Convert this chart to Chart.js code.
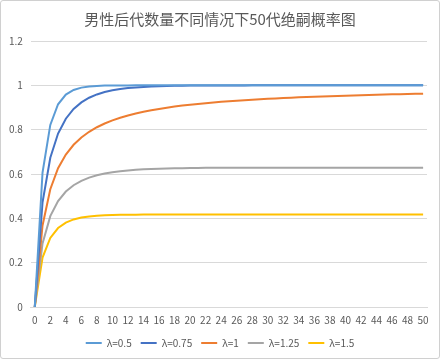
<!DOCTYPE html>
<html><head><meta charset="utf-8">
<script src="https://cdn.jsdelivr.net/npm/chart.js@4/dist/chart.umd.min.js"></script>
<style>
html,body{margin:0;padding:0;background:#fff;}
#wrap{position:absolute;left:0;top:0;width:438px;height:357px;border:1px solid #d0d0d0;border-radius:3px;background:#fff;}
canvas{display:block;}
</style></head><body>
<div id="wrap"><canvas id="c" width="438" height="357"></canvas></div>
<script>
const titleText = '男性后代数量不同情况下50代绝嗣概率图';
const generations = Array.from({length:51},(_,i)=>String(i));
const seriesNames = ['λ=0.5','λ=0.75','λ=1','λ=1.25','λ=1.5'];
const lambda05 = [0,0.6065,0.8214,0.9146,0.9582,0.9793,0.9897,0.9949,0.9974,0.9987,0.9994,0.9997,0.9998,0.9999,1,1,1,1,1,1,1,1,1,1,1,1,1,1,1,1,1,1,1,1,1,1,1,1,1,1,1,1,1,1,1,1,1,1,1,1,1];
const lambda075 = [0,0.4724,0.6732,0.7826,0.8495,0.8933,0.9231,0.9440,0.9589,0.9696,0.9775,0.9833,0.9875,0.9907,0.9930,0.9948,0.9961,0.9971,0.9978,0.9984,0.9988,0.9991,0.9993,0.9995,0.9996,0.9997,0.9998,0.9998,0.9999,0.9999,0.9999,1,1,1,1,1,1,1,1,1,1,1,1,1,1,1,1,1,1,1,1];
const lambda1 = [0,0.3679,0.5315,0.6259,0.6879,0.7319,0.7649,0.7905,0.8110,0.8278,0.8418,0.8537,0.8639,0.8728,0.8806,0.8875,0.8936,0.8991,0.9040,0.9085,0.9126,0.9163,0.9197,0.9228,0.9257,0.9284,0.9309,0.9332,0.9354,0.9374,0.9393,0.9411,0.9428,0.9444,0.9459,0.9473,0.9487,0.9500,0.9512,0.9524,0.9535,0.9546,0.9556,0.9566,0.9575,0.9584,0.9593,0.9601,0.9609,0.9617,0.9624];
const lambda125 = [0,0.2865,0.4099,0.4782,0.5208,0.5494,0.5693,0.5837,0.5943,0.6022,0.6082,0.6128,0.6163,0.6190,0.6211,0.6228,0.6241,0.6251,0.6259,0.6265,0.6270,0.6274,0.6277,0.6279,0.6281,0.6282,0.6283,0.6284,0.6285,0.6285,0.6285,0.6286,0.6286,0.6286,0.6286,0.6286,0.6286,0.6286,0.6286,0.6286,0.6286,0.6286,0.6286,0.6286,0.6286,0.6286,0.6286,0.6286,0.6286,0.6286,0.6286];
const lambda15 = [0,0.2231,0.3118,0.3562,0.3807,0.3950,0.4035,0.4087,0.4119,0.4139,0.4151,0.4159,0.4163,0.4166,0.4168,0.4170,0.4171,0.4171,0.4172,0.4172,0.4172,0.4172,0.4172,0.4172,0.4172,0.4172,0.4172,0.4172,0.4172,0.4172,0.4172,0.4172,0.4172,0.4172,0.4172,0.4172,0.4172,0.4172,0.4172,0.4172,0.4172,0.4172,0.4172,0.4172,0.4172,0.4172,0.4172,0.4172,0.4172,0.4172,0.4172];
const colors = ['#5B9BD5','#4472C4','#ED7D31','#A5A5A5','#FFC000'];
const allSeries = [lambda05,lambda075,lambda1,lambda125,lambda15];

const FONT = "'Noto Sans CJK SC','Noto Sans',sans-serif";
new Chart(document.getElementById('c'),{
  type:'line',
  data:{labels:generations,datasets:allSeries.map((d,i)=>({label:seriesNames[i],data:d,borderColor:colors[i],backgroundColor:colors[i],borderWidth:2,pointRadius:0,tension:0,fill:false}))},
  options:{
    responsive:false,animation:false,
    layout:{padding:{left:0,right:0,top:4,bottom:0}},
    plugins:{
      title:{display:true,text:titleText,color:'#595959',font:{family:FONT,size:15,weight:'normal'},padding:{top:5,bottom:13}},
      legend:{position:'bottom',labels:{usePointStyle:true,pointStyle:'line',pointStyleWidth:16,color:'#595959',font:{family:FONT,size:10},padding:9,boxHeight:8}},
      tooltip:{enabled:false}
    },
    scales:{
      x:{offset:true,grid:{display:false,drawTicks:false},border:{display:true,color:'#d9d9d9'},
        afterFit:function(s){s.height-=4;},
        ticks:{autoSkip:false,maxRotation:0,color:'#595959',font:{family:FONT,size:10},padding:7,
          callback:function(v,i){return i%2===0?this.getLabelForValue(v):'';}}},
      y:{min:0,max:1.2,grid:{color:'#d9d9d9',drawTicks:false},border:{display:false},
        ticks:{stepSize:0.2,color:'#595959',font:{family:FONT,size:10},padding:8,
          callback:function(v){return String(Math.round(v*10)/10);}}},
      yRightSpace:{position:'right',display:true,min:0,max:1.2,grid:{display:false,drawTicks:false},border:{display:false},
        ticks:{display:false},afterFit:function(s){s.width=12;}}
    }
  }
});
</script></body></html>
